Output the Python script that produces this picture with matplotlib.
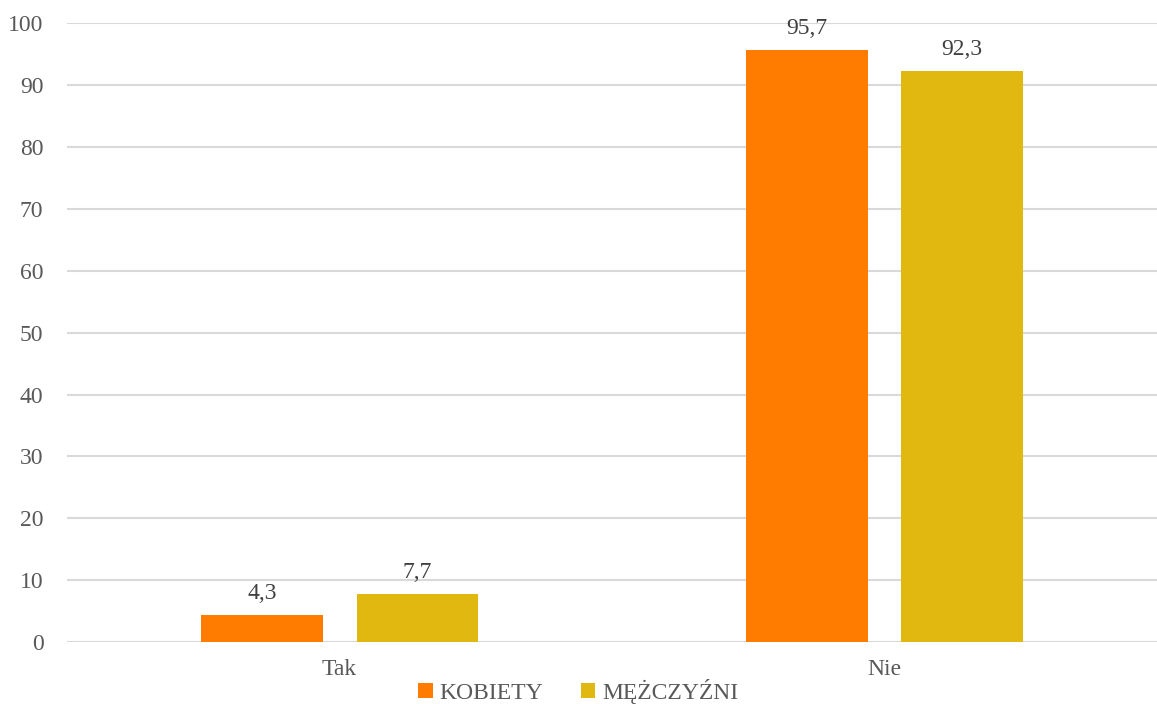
import numpy as np
import matplotlib.pyplot as plt

# ---------- dane ----------
CATEGORIES = ['Tak', 'Nie']
SERIES = ['KOBIETY', 'MĘŻCZYŹNI']
KOBIETY = [4.3, 95.7]
MEZCZYZNI = [7.7, 92.3]
Y_TICKS = [0, 10, 20, 30, 40, 50, 60, 70, 80, 90, 100]

COLORS = {'KOBIETY': '#FF7C00', 'MĘŻCZYŹNI': '#E0B810'}
TEXT_COLOR = '#595959'

plt.rcParams['font.family'] = ['Liberation Serif', 'DejaVu Serif']

fig = plt.figure(figsize=(11.57, 7.04), dpi=100)
ax = fig.add_axes([0.058, 0.088, 0.942, 0.879])

x = np.arange(len(CATEGORIES))
width = 0.223
offset = 0.1426

for vals, name, sign in [(KOBIETY, 'KOBIETY', -1), (MEZCZYZNI, 'MĘŻCZYŹNI', 1)]:
    bars = ax.bar(x + sign * offset, vals, width, color=COLORS[name], label=name, zorder=3)
    for b, v in zip(bars, vals):
        ax.annotate(f'{v:.1f}'.replace('.', ','),
                    (b.get_x() + b.get_width() / 2, b.get_height()),
                    xytext=(0, 8), textcoords='offset points',
                    ha='center', va='bottom', fontsize=17, color='#404040')

ax.set_xlim(-0.5, 1.5)
ax.set_ylim(0, 100)
ax.set_yticks(Y_TICKS)
ax.set_xticks(x)
ax.set_xticklabels(CATEGORIES)
ax.tick_params(axis='both', length=0, labelsize=17, labelcolor=TEXT_COLOR)
ax.tick_params(axis='y', pad=17)
ax.tick_params(axis='x', pad=12)
ax.grid(axis='y', color='#D9D9D9', lw=1.5, zorder=0)
for s in ax.spines.values():
    s.set_visible(False)

leg = fig.legend(*ax.get_legend_handles_labels(), loc='center',
                 bbox_to_anchor=(0.5, 0.018), ncol=2, frameon=False,
                 fontsize=17, handlelength=0.6, handleheight=0.6, handletextpad=0.3,
                 columnspacing=1.6)
for t in leg.get_texts():
    t.set_color(TEXT_COLOR)

plt.savefig('out.png', dpi=100, facecolor='white')
